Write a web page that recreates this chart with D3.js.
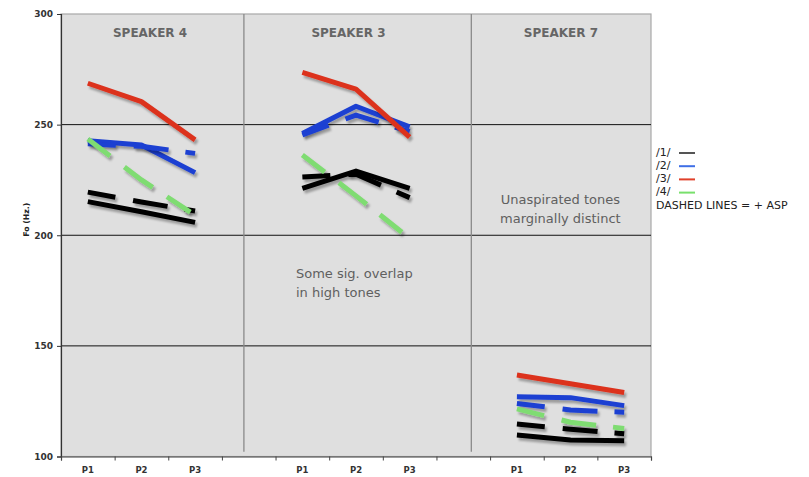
<!DOCTYPE html>
<html>
<head>
<meta charset="utf-8">
<script src="https://cdn.jsdelivr.net/npm/d3@7/dist/d3.min.js"></script>
<style>
  html, body { margin: 0; padding: 0; background: #fff; }
  svg { display: block; }
</style>
</head>
<body>
<svg id="chart" width="809" height="477"></svg>
<script>
// Category slots along the x axis (blank slots separate the speakers)
const categories = ["P1", "P2", "P3", "", "P1", "P2", "P3", "", "P1", "P2", "P3"];
const speakers = ["SPEAKER 4", "SPEAKER 3", "SPEAKER 7"];
const speakerStart = [0, 4, 8];           // first slot of each speaker
const tones = ["/1/", "/2/", "/3/", "/4/"];
const yTicks = [100, 150, 200, 250, 300];
const gridValues = [150, 200, 250];

// Fo (Hz) at P1, P2, P3 for speakers 4, 3, 7
const tone1Unasp = [[215.2, 210.6, 205.8], [221.2, 229.0, 221.2], [109.7, 107.5, 107.1]];
const tone1Asp   = [[219.5, 215.0, 211.0], [226.3, 227.6, 217.0], [114.7, 112.3, 110.3]];
const tone2Unasp = [[242.7, 240.8, 228.3], [246.0, 258.3, 249.0], [127.0, 126.6, 123.0]];
const tone2Asp   = [[241.3, 240.2, 237.0], [245.3, 254.3, 246.8], [124.0, 121.0, 120.0]];
const tone3Unasp = [[268.7, 260.4, 243.1], [273.6, 266.0, 244.3], [136.8, 132.9, 128.9]];
const tone4Asp   = [[243.5, 225.0, 209.0], [236.3, 217.8, 198.6], [121.5, 115.5, 112.7]];

// Drawing order: later series sit on top
const seriesList = [
  { tone: 0, values: tone1Unasp, dashed: false },
  { tone: 0, values: tone1Asp,   dashed: true  },
  { tone: 1, values: tone2Unasp, dashed: false },
  { tone: 1, values: tone2Asp,   dashed: true  },
  { tone: 2, values: tone3Unasp, dashed: false },
  { tone: 3, values: tone4Asp,   dashed: true  }
];

const toneColors   = ["#000000", "#1c3fd2", "#dc321e", "#7fdc72"];
const legendColors = ["#555555", "#3f6fe6", "#e0402a", "#78e06c"];

const svg = d3.select("#chart");
const plot = { left: 61, right: 651, top: 14, bottom: 456.5 };

// Drop shadow used by the data lines
const defs = svg.append("defs");
const f = defs.append("filter").attr("id", "shadow")
  .attr("filterUnits", "userSpaceOnUse")
  .attr("x", 0).attr("y", 0).attr("width", 809).attr("height", 477);
f.append("feGaussianBlur").attr("in", "SourceAlpha").attr("stdDeviation", 1).attr("result", "b");
f.append("feOffset").attr("in", "b").attr("dx", 2).attr("dy", 2.5).attr("result", "o");
f.append("feFlood").attr("flood-color", "#000").attr("flood-opacity", 0.3).attr("result", "c");
f.append("feComposite").attr("in", "c").attr("in2", "o").attr("operator", "in").attr("result", "s");
const m = f.append("feMerge");
m.append("feMergeNode").attr("in", "s");
m.append("feMergeNode").attr("in", "SourceGraphic");

// Scales
const xBand = d3.scaleBand().domain(d3.range(categories.length))
  .range([plot.left, plot.right]).paddingInner(0).paddingOuter(0);
const xUnit = d3.scaleLinear().domain([0, categories.length]).range([plot.left, plot.right]);
const y = d3.scaleLinear().domain([100, 300]).range([plot.bottom, plot.top]);
const xc = i => xBand(i) + xBand.bandwidth() / 2;

// Plot background and frame
svg.append("rect")
  .attr("x", plot.left).attr("y", plot.top)
  .attr("width", plot.right - plot.left).attr("height", plot.bottom - plot.top)
  .attr("fill", "#dfdfdf").attr("stroke", "#a8a8a8").attr("stroke-width", 1.2);

// Horizontal grid lines
svg.append("g").selectAll("line").data(gridValues).join("line")
  .attr("x1", plot.left).attr("x2", plot.right)
  .attr("y1", d => y(d)).attr("y2", d => y(d))
  .attr("stroke", "#111").attr("stroke-width", 1);

// Speaker dividers
const dividers = [3.41, 7.65];
svg.append("g").selectAll("line").data(dividers).join("line")
  .attr("x1", d => xUnit(d)).attr("x2", d => xUnit(d))
  .attr("y1", plot.top).attr("y2", y(102.2))
  .attr("stroke", "#8a8a8a").attr("stroke-width", 1.3);

// Y axis
const yAxis = svg.append("g").attr("transform", `translate(${plot.left},0)`)
  .call(d3.axisLeft(y).tickValues(yTicks).tickSize(4).tickPadding(4));
yAxis.select(".domain").attr("stroke", "#333").attr("stroke-width", 1.2);
yAxis.selectAll(".tick line").attr("stroke", "#333");
yAxis.selectAll(".tick text")
  .attr("font-family", "DejaVu Sans").attr("font-size", 9).attr("font-weight", "bold").attr("fill", "#333");

// X axis: tick marks between slots, labels centred in slots
const xTicks = svg.append("g").attr("transform", `translate(0,${plot.bottom})`)
  .call(d3.axisBottom(xUnit).tickValues(d3.range(categories.length + 1)).tickSize(4).tickFormat(""));
xTicks.select(".domain").attr("stroke", "#444").attr("stroke-width", 1.2);
xTicks.selectAll(".tick line").attr("stroke", "#444");

const xLabels = svg.append("g").attr("transform", `translate(0,${plot.bottom})`)
  .call(d3.axisBottom(xBand).tickSize(0).tickPadding(10).tickFormat(i => categories[i]));
xLabels.select(".domain").remove();
xLabels.selectAll(".tick text")
  .attr("font-family", "DejaVu Sans").attr("font-size", 8.5).attr("font-weight", "bold").attr("fill", "#333");

// Axis title
svg.append("text")
  .attr("transform", `translate(29,${y(207)}) rotate(-90)`)
  .attr("text-anchor", "middle")
  .attr("font-family", "DejaVu Sans").attr("font-size", 7.8).attr("font-weight", "bold").attr("fill", "#222")
  .text("Fo (Hz.)");

// Speaker titles
const titlePos = [1.66, 5.36, 9.32];
svg.append("g").selectAll("text").data(speakers).join("text")
  .attr("x", (d, i) => xUnit(titlePos[i])).attr("y", y(289.8))
  .attr("text-anchor", "middle")
  .attr("font-family", "DejaVu Sans").attr("font-size", 12).attr("font-weight", "bold").attr("fill", "#666")
  .text(d => d);

// Data lines
const line = d3.line().x(d => d[0]).y(d => y(d[1]));
const linesG = svg.append("g");
seriesList.forEach(s => {
  s.values.forEach((vals, sp) => {
    const pts = vals.map((v, k) => [xc(speakerStart[sp] + k), v]);
    linesG.append("path")
      .attr("d", line(pts))
      .attr("fill", "none")
      .attr("stroke", toneColors[s.tone])
      .attr("stroke-width", 5)
      .attr("stroke-linejoin", "round")
      .attr("stroke-linecap", "butt")
      .attr("stroke-dasharray", s.dashed ? "28,18,35,17" : null)
      .attr("filter", "url(#shadow)");
  });
});

// Annotations
const notes = [
  { lines: ["Some sig. overlap", "in high tones"], x: 4.38, y: 180.6, anchor: "start" },
  { lines: ["Unaspirated tones", "marginally distinct"], x: 9.31, y: 213.9, anchor: "middle" }
];
notes.forEach(n => {
  const t = svg.append("text")
    .attr("font-family", "DejaVu Sans").attr("font-size", 13).attr("fill", "#606060")
    .attr("text-anchor", n.anchor);
  n.lines.forEach((l, i) => {
    t.append("tspan").attr("x", xUnit(n.x)).attr("y", y(n.y) + i * 18.5).text(l);
  });
});

// Legend
const legend = svg.append("g").attr("transform", "translate(656,155.5)");
const rowStep = 13.2;
tones.forEach((t, i) => {
  const g = legend.append("g").attr("transform", `translate(0,${i * rowStep})`);
  g.append("text").attr("x", 0).attr("y", 0)
    .attr("font-family", "DejaVu Sans").attr("font-size", 11).attr("fill", "#222").text(t);
  g.append("line").attr("x1", 23).attr("x2", 39).attr("y1", -2.5).attr("y2", -2.5)
    .attr("stroke", legendColors[i]).attr("stroke-width", 2);
});
legend.append("text").attr("x", 0).attr("y", 4 * rowStep + 0.2)
  .attr("font-family", "DejaVu Sans").attr("font-size", 11).attr("fill", "#222")
  .text("DASHED LINES = + ASP");
</script>
</body>
</html>
